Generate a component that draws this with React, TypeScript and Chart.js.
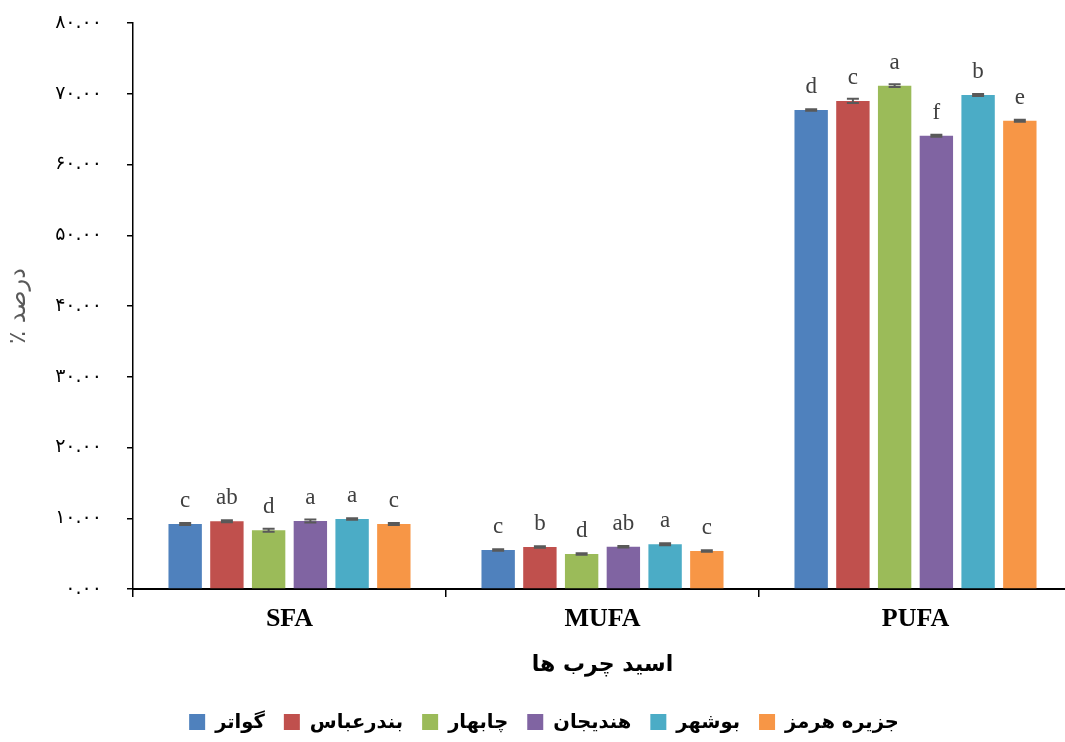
import React, { useEffect, useRef } from 'react';
import { Chart, registerables } from 'chart.js';

Chart.register(...registerables);

// Fatty-acid groups on the category axis
const categories = ['SFA', 'MUFA', 'PUFA'];

// Sampling sites (one bar series each) and their colours
const sites = ['گواتر', 'بندرعباس', 'چابهار', 'هندیجان', 'بوشهر', 'جزیره هرمز'];
const siteColors = ['#4F81BD', '#C0504D', '#9BBB59', '#8064A2', '#4BACC6', '#F79646'];

// Mean percentage per site: [SFA, MUFA, PUFA]
const gwatr = [9.19, 5.51, 67.7];
const bandarAbbas = [9.57, 5.94, 68.98];
const chabahar = [8.3, 4.95, 71.14];
const hendijan = [9.61, 5.98, 64.07];
const bushehr = [9.89, 6.32, 69.82];
const hormoz = [9.19, 5.37, 66.19];

// Standard errors per site: [SFA, MUFA, PUFA]
const gwatrErr = [0.15, 0.1, 0.1];
const bandarAbbasErr = [0.15, 0.12, 0.3];
const chabaharErr = [0.2, 0.12, 0.2];
const hendijanErr = [0.2, 0.1, 0.15];
const bushehrErr = [0.1, 0.15, 0.15];
const hormozErr = [0.15, 0.12, 0.15];

// Significance letters per site: [SFA, MUFA, PUFA]
const gwatrLetters = ['c', 'c', 'd'];
const bandarAbbasLetters = ['ab', 'b', 'c'];
const chabaharLetters = ['d', 'd', 'a'];
const hendijanLetters = ['a', 'ab', 'f'];
const bushehrLetters = ['a', 'a', 'b'];
const hormozLetters = ['c', 'c', 'e'];

const seriesValues = [gwatr, bandarAbbas, chabahar, hendijan, bushehr, hormoz];
const seriesErrors = [gwatrErr, bandarAbbasErr, chabaharErr, hendijanErr, bushehrErr, hormozErr];
const seriesLetters = [gwatrLetters, bandarAbbasLetters, chabaharLetters, hendijanLetters, bushehrLetters, hormozLetters];

// Value-axis tick labels (Persian digits)
const yTickLabels = ['۰.۰۰', '۱۰.۰۰', '۲۰.۰۰', '۳۰.۰۰', '۴۰.۰۰', '۵۰.۰۰', '۶۰.۰۰', '۷۰.۰۰', '۸۰.۰۰'];
const yTitle = 'درصد ٪';
const xTitle = 'اسید چرب ها';

const PERSIAN_FONT = '"DejaVu Sans", "Noto Sans", sans-serif';
const SERIF_FONT = '"Liberation Serif", "DejaVu Serif", serif';

// Error bars, letters above bars, the category-axis title and the legend
const annotatePlugin = {
  id: 'annotate',
  afterDatasetsDraw(chart: any) {
    const ctx = chart.ctx;
    const yScale = chart.scales.y;
    chart.data.datasets.forEach((_ds: any, di: number) => {
      const meta = chart.getDatasetMeta(di);
      meta.data.forEach((bar: any, i: number) => {
        const v = seriesValues[di][i];
        const e = seriesErrors[di][i];
        const x = bar.x;
        const yHi = yScale.getPixelForValue(v + e);
        const yLo = yScale.getPixelForValue(v - e);
        ctx.save();
        ctx.strokeStyle = '#595959';
        ctx.lineWidth = 2;
        ctx.beginPath();
        ctx.moveTo(x, yHi);
        ctx.lineTo(x, yLo);
        ctx.moveTo(x - 6, yHi);
        ctx.lineTo(x + 6, yHi);
        ctx.moveTo(x - 6, yLo);
        ctx.lineTo(x + 6, yLo);
        ctx.stroke();
        ctx.fillStyle = '#404040';
        ctx.font = `23px ${SERIF_FONT}`;
        ctx.textAlign = 'center';
        ctx.textBaseline = 'alphabetic';
        ctx.fillText(seriesLetters[di][i], x, yScale.getPixelForValue(v) - 17);
        ctx.restore();
      });
    });
  },
  afterDraw(chart: any) {
    const ctx = chart.ctx;
    const area = chart.chartArea;
    ctx.save();
    // category-axis title, centred under the plot area
    ctx.fillStyle = '#000';
    ctx.font = `bold 22px ${PERSIAN_FONT}`;
    ctx.textAlign = 'center';
    ctx.textBaseline = 'middle';
    ctx.fillText(xTitle, (area.left + area.right) / 2, 665);

    // legend row
    ctx.font = `bold 19.5px ${PERSIAN_FONT}`;
    const box = 16;
    const gapText = 10;
    const gapItem = 19;
    const widths = chart.data.datasets.map((ds: any) => ctx.measureText(ds.label).width);
    const total = widths.reduce((a: number, w: number) => a + box + gapText + w, 0) + gapItem * (widths.length - 1);
    let x = 544 - total / 2;
    const cy = 722;
    ctx.textAlign = 'left';
    chart.data.datasets.forEach((ds: any, i: number) => {
      ctx.fillStyle = ds.backgroundColor;
      ctx.fillRect(x, cy - box / 2, box, box);
      ctx.fillStyle = '#000';
      ctx.fillText(ds.label, x + box + gapText, cy + 1);
      x += box + gapText + widths[i] + gapItem;
    });
    ctx.restore();
  },
};

export default function App() {
  const canvasRef = useRef<HTMLCanvasElement | null>(null);

  useEffect(() => {
    document.documentElement.style.overflow = 'hidden';
    document.body.style.overflow = 'hidden';
    const canvas = canvasRef.current;
    if (!canvas) return;
    const chart = new Chart(canvas, {
      type: 'bar',
      data: {
        labels: categories,
        datasets: sites.map((name, i) => ({
          label: name,
          data: seriesValues[i],
          backgroundColor: siteColors[i],
          borderWidth: 0,
          categoryPercentage: 0.8,
          barPercentage: 0.8,
        })),
      },
      options: {
        animation: false,
        responsive: false,
        maintainAspectRatio: false,
        layout: { padding: { left: 0, right: 8, top: 23, bottom: 113 } },
        plugins: {
          legend: { display: false },
          tooltip: { enabled: false },
        },
        scales: {
          x: {
            afterFit: (scale: any) => {
              scale.height = 40;
            },
            grid: {
              offset: true,
              drawOnChartArea: false,
              drawTicks: true,
              tickLength: 8,
              color: '#000',
              lineWidth: 1.5,
            },
            border: { display: true, color: '#000', width: 2 },
            ticks: {
              color: '#000',
              padding: 7,
              font: { family: SERIF_FONT, size: 26, weight: 'bold' },
            },
          },
          y: {
            min: 0,
            max: 80,
            afterFit: (scale: any) => {
              scale.width = 133;
              scale.paddingTop = 0;
              scale.paddingBottom = 0;
            },
            grid: {
              drawOnChartArea: false,
              drawTicks: true,
              tickLength: 6,
              color: '#000',
              lineWidth: 1.5,
            },
            border: { display: true, color: '#000', width: 1.5 },
            ticks: {
              stepSize: 10,
              color: '#000',
              padding: 25,
              font: { family: PERSIAN_FONT, size: 19 },
              callback: (_v: any, index: number) => yTickLabels[index],
            },
            title: {
              display: true,
              text: yTitle + '\u200F',
              color: '#595959',
              padding: { top: 4, bottom: 0 },
              font: { family: PERSIAN_FONT, size: 24 },
            },
          },
        },
      },
      plugins: [annotatePlugin],
    });
    return () => chart.destroy();
  }, []);

  return (
    <div style={{ position: 'fixed', left: 0, top: 0, width: 1080, height: 742, background: '#fff' }}>
      <canvas ref={canvasRef} width={1080} height={742} style={{ width: 1080, height: 742, display: 'block' }} />
    </div>
  );
}
